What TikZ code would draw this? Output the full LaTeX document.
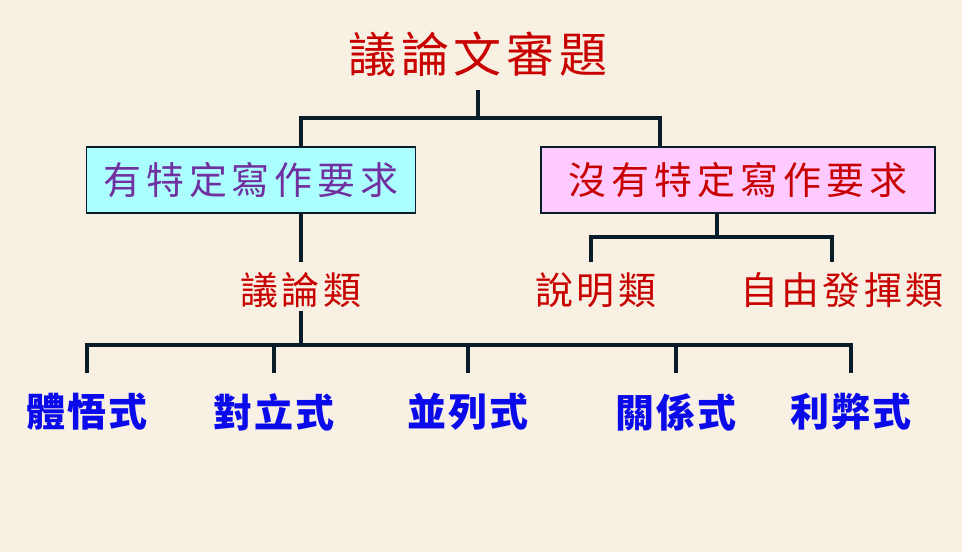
\documentclass[tikz,border=0pt]{standalone}
\usepackage{fontspec}
\newfontfamily\cjk{Noto Sans CJK TC}
\definecolor{paper}{RGB}{248,240,226}
\definecolor{branch}{RGB}{8,28,42}
\definecolor{titleRed}{RGB}{200,0,0}
\definecolor{reqCyan}{RGB}{172,255,255}
\definecolor{reqPink}{RGB}{255,202,255}
\definecolor{reqPurple}{RGB}{112,48,160}
\definecolor{typeBlue}{RGB}{10,10,235}
\begin{document}
\begin{tikzpicture}
[x=1pt,y=-1pt,
  lineDecorate/.style={-,line width=4pt,draw=branch},
  boxDecorate/.style={draw=branch,line width=1.2pt,minimum height=66pt,inner sep=0pt,%
    font=\cjk\fontsize{38}{40}\selectfont\addfontfeatures{LetterSpace=13}},
  labelDecorate/.style={inner sep=0pt,text=titleRed,%
    font=\cjk\fontsize{38}{40}\selectfont\addfontfeatures{LetterSpace=8}},
  typeDecorate/.style={inner sep=0pt,text=typeBlue,%
    font=\cjk\bfseries\fontsize{39}{41}\selectfont\addfontfeatures{LetterSpace=4}}]
%% paper
\fill[paper] (0,0) rectangle (962,552);
\useasboundingbox (0,0) rectangle (962,552);
%% title and requirement boxes
\node (title) at (478,54) [text=titleRed,%
  font=\cjk\fontsize{48}{50}\selectfont\addfontfeatures{LetterSpace=10}] {議論文審題};
\node (req) at (251,180) [boxDecorate,fill=reqCyan,minimum width=329pt,text=reqPurple] {有特定寫作要求};
\node (noreq) at (738,180) [boxDecorate,fill=reqPink,minimum width=394pt,text=titleRed] {沒有特定寫作要求};
%% categories and types
\foreach \nodename/\x/\label in {arg/301/議論類, expl/596/說明類, free/842/自由發揮類}
{
  \node (\nodename) at (\x,290) [labelDecorate] {\label};
}
\foreach \nodename/\x/\label in {
  body/87/體悟式, oppose/274/對立式, parallel/468/並列式,
  relation/676/關係式, merit/851/利弊式}
{
  \node (\nodename) at (\x,412) [typeDecorate] {\label};
}
%% junctions
\foreach \pointname/\x/\y in {
  titleOut/478/90, splitTop/478/118, noreqIn/660/147,
  argIn/301/262, argOut/301/311, splitArg/301/345, dropEnd/0/373,
  splitFree/717/237, explIn/591/262, freeIn/832/262}
{
  \coordinate (\pointname) at (\x,\y);
}
%% edges or lines
\draw[lineDecorate] (titleOut) -- (splitTop);
\draw[lineDecorate] (req.north -| argIn) |- (splitTop) -| (noreqIn);
\draw[lineDecorate] (req.south -| argIn) -- (argIn);
\draw[lineDecorate] (argOut) -- (splitArg);
\draw[lineDecorate] (body |- dropEnd) |- (merit |- splitArg) -- (merit |- dropEnd);
\path
\foreach \endnode in {oppose, parallel, relation}
{
  (\endnode |- splitArg) edge[lineDecorate] (\endnode |- dropEnd)
};
\draw[lineDecorate] (noreq.south -| splitFree) -- (splitFree);
\draw[lineDecorate] (explIn) |- (splitFree) -| (freeIn);
\end{tikzpicture}
\end{document}
